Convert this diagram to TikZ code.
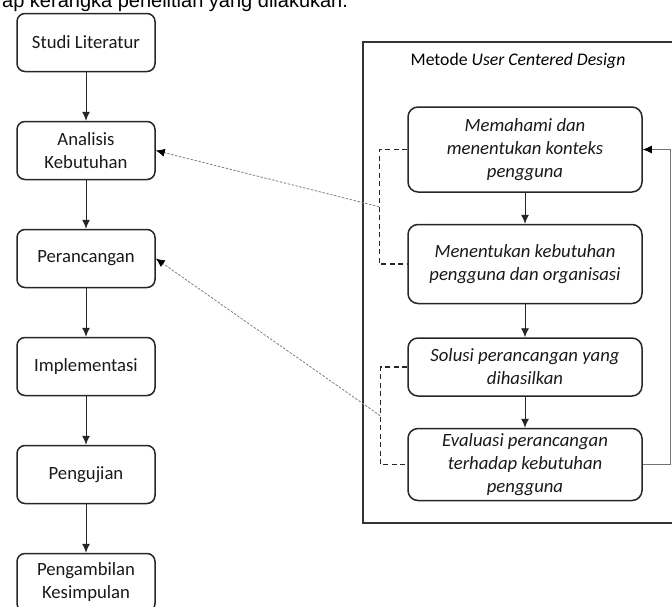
\documentclass[tikz,border=0pt]{standalone}
\usepackage{fontspec}
\setmainfont{Carlito}
\newfontfamily\arialfont{Liberation Sans}
\usetikzlibrary{arrows.meta,positioning}

\begin{document}
\begin{tikzpicture}[x=1pt,y=-1pt,node distance=108pt]
		\tikzstyle{stepbox}=[draw=black!85, line width=1.5pt, rounded corners=8pt, minimum width=138pt, minimum height=58pt, align=center, text=black!90, font=\fontsize{18.7}{23}\selectfont]
		\tikzstyle{ucdbox}=[stepbox, minimum width=234pt, rounded corners=10pt, font=\itshape\fontsize{18.7}{23}\selectfont]
		\tikzstyle{flow}=[draw=black!85, line width=0.9pt, -{Latex[length=9pt,width=8pt]}]
		\tikzstyle{link}=[draw=black!50, line width=0.8pt, dash pattern=on 2.5pt off 1.5pt, -{Latex[length=9pt,width=8pt,color=black]}]
		\tikzstyle{bracket}=[draw=black!85, line width=1.4pt, dash pattern=on 5pt off 3.5pt]
		\tikzstyle{backline}=[draw=black!55, line width=0.9pt, -{Latex[length=9pt,width=8pt,color=black]}]

		\useasboundingbox (0,0) rectangle (672,606);
		\clip (0,0) rectangle (672,606);

		\node [anchor=base west, inner sep=0pt] (caption) at (2,7) {\arialfont\fontsize{20}{24}\selectfont ap kerangka penelitian yang dilakukan.};

		\begin{scope}
			\node [stepbox] (S1) at (86,42.5) {Studi Literatur};
			\node [stepbox] (S2) [below of=S1] {Analisis\\Kebutuhan};
			\node [stepbox] (S3) [below of=S2] {Perancangan};
			\node [stepbox] (S4) [below of=S3] {Implementasi};
			\node [stepbox] (S5) [below of=S4] {Pengujian};
			\node [stepbox] (S6) [below of=S5] {Pengambilan\\Kesimpulan};

			\draw [flow] (S1) -- (S2);
			\draw [flow] (S2) -- (S3);
			\draw [flow] (S3) -- (S4);
			\draw [flow] (S4) -- (S5);
			\draw [flow] (S5) -- (S6);
		\end{scope}

		\begin{scope}
			\draw [draw=black!80, line width=1.5pt] (363,42) rectangle (690,523);
			\node (ucd) at (518,61) {\fontsize{17.7}{21}\selectfont Metode \textit{User Centered Design}};

			\node [ucdbox, minimum height=85pt] (U1) at (525,149.5) {Memahami dan\\menentukan konteks\\pengguna};
			\node [ucdbox, minimum height=79pt] (U2) [below=31pt of U1] {Menentukan kebutuhan\\pengguna dan organisasi};
			\node [ucdbox] (U3) [below=33pt of U2] {Solusi perancangan yang\\dihasilkan};
			\node [ucdbox, minimum height=72pt, inner sep=2pt] (U4) [below=31pt of U3] {Evaluasi perancangan\\terhadap kebutuhan\\pengguna};

			\draw [flow] (U1) -- (U2);
			\draw [flow] (U2) -- (U3);
			\draw [flow] (U3) -- (U4);
			\draw [backline] (U4.east) -- ++(28,0) |- (U1.east);

			\draw [bracket] (U1.west) -- ++(-28,0) |- coordinate[pos=0.25] (link1) (U2.west);
			\draw [bracket] (U3.west) -- ++(-27,0) |- coordinate[pos=0.25] (link2) (U4.west);
		\end{scope}

		\draw [link] (link1) -- (S2.east);
		\draw [link] (link2) -- (S3.east);

	\end{tikzpicture}
\end{document}
